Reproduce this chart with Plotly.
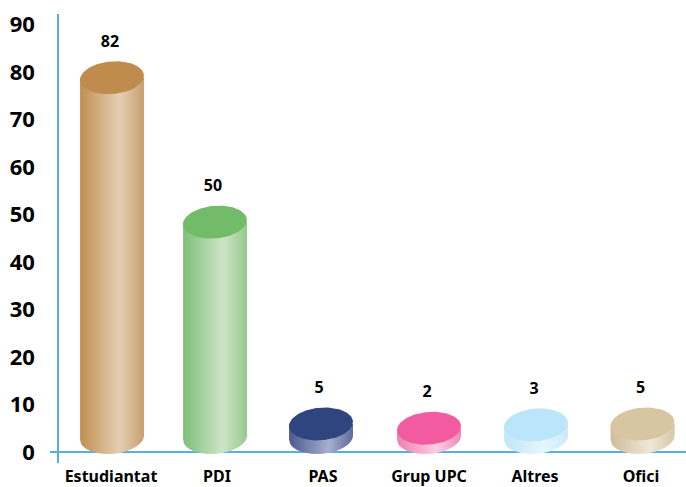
import numpy as np
import plotly.graph_objects as go

# Data
categories = ["Estudiantat", "PDI", "PAS", "Grup UPC", "Altres", "Ofici"]
labels = [82, 50, 5, 2, 3, 5]
# Level of each cylinder's cap centre as drawn in the picture (the picture's heights differ from its labels)
cap_levels = [78.8, 48.4, 5.9, 5.0, 5.7, 5.9]
base_level = 3.1
y_ticks = [0, 10, 20, 30, 40, 50, 60, 70, 80, 90]

# Styles
cap_colors = ["#C08C4E", "#72BB68", "#2F4580", "#F25BA0", "#BBE5FB", "#D8C5A2"]
left_colors = ["#C09050", "#7CC07A", "#4A5A90", "#F080B0", "#C0E8FB", "#D0BD9A"]
mid_colors = ["#E5CFB4", "#CFE5C8", "#A8B0D0", "#FBD0E3", "#E8F6FD", "#EFE8DA"]
right_colors = ["#C8A070", "#96CA90", "#5F6C9E", "#F088B8", "#C8EBFA", "#D8C8A8"]
x_nudge_px = [1, -2, -2, 0, 1, 1.5]
AXIS = "#5AAFE0"
FONT = "Noto Sans"

# Pixel scale helpers
PX_X, PX_Y = 106.0, 4.75
A, B, TH = 32.0, 16.3, np.radians(-5)
GRAD_MID = 0.62
STRIPS = 40


def hex_rgb(h):
    return np.array([int(h[i:i + 2], 16) for i in (1, 3, 5)], float)


def mix(l, m, r, f):
    if f < GRAD_MID:
        c = hex_rgb(l) + (hex_rgb(m) - hex_rgb(l)) * f / GRAD_MID
    else:
        c = hex_rgb(m) + (hex_rgb(r) - hex_rgb(m)) * (f - GRAD_MID) / (1 - GRAD_MID)
    return "rgb(%d,%d,%d)" % tuple(c)


cs, sn = np.cos(TH), np.sin(TH)
qa = cs**2 / A**2 + sn**2 / B**2
qb = 2 * sn * cs * (1 / A**2 - 1 / B**2)
qc = sn**2 / A**2 + cs**2 / B**2
HALF = np.sqrt(A**2 * cs**2 + B**2 * sn**2)


def lower_arc(u):
    disc = np.clip(qb**2 * u**2 - 4 * qc * (qa * u**2 - 1), 0, None)
    return (-qb * u + np.sqrt(disc)) / (2 * qc)


fig = go.Figure()
for i, cat in enumerate(categories):
    cx = i + x_nudge_px[i] / PX_X
    top = cap_levels[i]
    edges = np.linspace(-HALF, HALF, STRIPS + 1)
    for s in range(STRIPS):
        e1 = edges[s]
        e2 = edges[min(s + 2, STRIPS)]
        us = np.linspace(e1, e2, 5)
        xs = cx + us / PX_X
        ys = base_level - lower_arc(us) / PX_Y
        fig.add_trace(go.Scatter(
            x=[cx + e1 / PX_X, *xs, cx + e2 / PX_X],
            y=[top, *ys, top],
            mode="lines", line=dict(width=0), fill="toself",
            fillcolor=mix(left_colors[i], mid_colors[i], right_colors[i], (s + 0.5) / STRIPS),
            hoverinfo="skip", showlegend=False,
        ))
    t = np.linspace(0, 2 * np.pi, 121)
    px = A * np.cos(t) * cs - B * np.sin(t) * sn
    py = A * np.cos(t) * sn + B * np.sin(t) * cs
    fig.add_trace(go.Scatter(
        x=cx + px / PX_X, y=top - py / PX_Y,
        mode="lines", line=dict(width=0), fill="toself",
        fillcolor=cap_colors[i], name=cat, showlegend=False,
    ))

fig.add_trace(go.Scatter(
    x=[i + (x_nudge_px[i] - 2) / PX_X for i in range(len(categories))],
    y=[c + 35 / PX_Y for c in cap_levels],
    mode="text", text=[str(v) for v in labels], textposition="middle center",
    textfont=dict(family=FONT, size=16, color="#000000", weight="bold"),
    showlegend=False, hoverinfo="skip",
))

x0 = -(111 - 50) / PX_X
x1 = (686 - 111) / PX_X
fig.update_layout(
    width=686, height=487, autosize=False,
    margin=dict(l=50, r=0, t=14, b=24),
    paper_bgcolor="#FFFFFF", plot_bgcolor="#FFFFFF",
    xaxis=dict(
        range=[x0, x1], tickmode="array", tickvals=list(range(len(categories))),
        ticktext=categories, showgrid=False, zeroline=False, showline=False, ticks="",
        ticklabelstandoff=2, automargin=False,
        tickfont=dict(family=FONT, size=16, color="#000000", weight="bold"),
    ),
    yaxis=dict(
        range=[-11 / PX_Y, 438 / PX_Y], tickmode="array", tickvals=y_ticks,
        showgrid=False, zeroline=True, zerolinecolor=AXIS, zerolinewidth=1.5,
        showline=True, linecolor=AXIS, linewidth=1.5, ticks="",
        anchor="free", position=8 / 636, ticklabelstandoff=18, automargin=False,
        tickfont=dict(family=FONT, size=22, color="#000000", weight="bold"),
    ),
)
fig.write_html(
    "out.html",
    config={"displayModeBar": False},
    post_script="document.body.style.margin='0';document.body.style.overflow='hidden';",
)
